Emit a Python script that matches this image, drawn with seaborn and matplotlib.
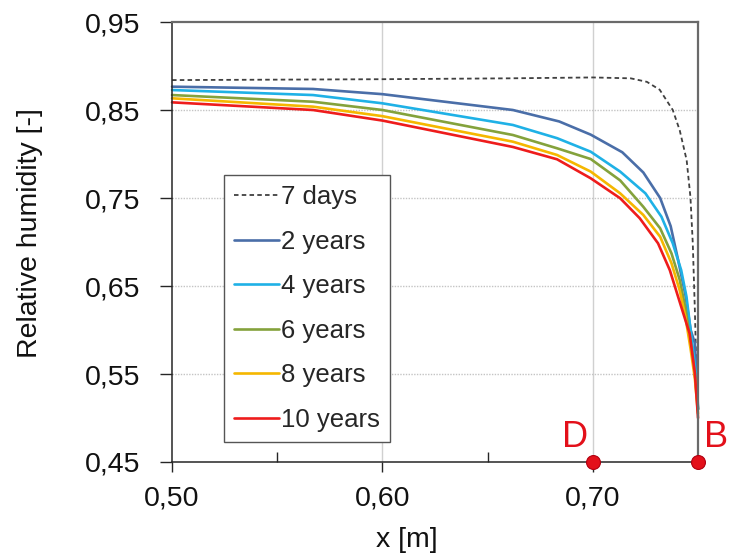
"""
Relative humidity profiles over depth x for several exposure times.
"""

import matplotlib
matplotlib.use("Agg")
import matplotlib.pyplot as plt
import matplotlib.ticker as mticker
import seaborn as sns

# --- data ---
X_7D = [0.50, 0.60, 0.66, 0.70, 0.718, 0.7257, 0.7318, 0.738, 0.7413,
        0.7446, 0.7464, 0.7475, 0.7485, 0.7493, 0.75]
RH_7D = [0.884, 0.885, 0.886, 0.887, 0.886, 0.882, 0.873, 0.850, 0.827,
         0.793, 0.751, 0.699, 0.623, 0.547, 0.50]

X_2Y = [0.50, 0.567, 0.60, 0.662, 0.684, 0.699, 0.714, 0.724, 0.732,
        0.737, 0.7405, 0.744, 0.7465, 0.7485, 0.7495, 0.75]
RH_2Y = [0.8765, 0.8739, 0.868, 0.850, 0.837, 0.822, 0.802, 0.779, 0.750,
         0.718, 0.680, 0.640, 0.600, 0.585, 0.540, 0.51]

X_4Y = [0.50, 0.567, 0.60, 0.662, 0.683, 0.699, 0.713, 0.725, 0.7326,
        0.738, 0.742, 0.7445, 0.747, 0.749, 0.75]
RH_4Y = [0.8727, 0.867, 0.8576, 0.833, 0.818, 0.8026, 0.780, 0.7553, 0.7288,
         0.6985, 0.668, 0.638, 0.590, 0.550, 0.51]

X_6Y = [0.50, 0.567, 0.60, 0.662, 0.683, 0.699, 0.713, 0.724, 0.732,
        0.7374, 0.7413, 0.744, 0.7465, 0.7485, 0.75]
RH_6Y = [0.867, 0.8594, 0.850, 0.8216, 0.8065, 0.7943, 0.770, 0.740, 0.7156,
         0.687, 0.657, 0.625, 0.585, 0.550, 0.51]

X_8Y = [0.50, 0.567, 0.60, 0.662, 0.683, 0.699, 0.713, 0.724, 0.732,
        0.7374, 0.7413, 0.744, 0.7465, 0.7485, 0.75]
RH_8Y = [0.8633, 0.8538, 0.843, 0.814, 0.7989, 0.780, 0.7553, 0.7307, 0.706,
         0.6758, 0.645, 0.615, 0.578, 0.545, 0.505]

X_10Y = [0.50, 0.567, 0.60, 0.662, 0.683, 0.699, 0.713, 0.7223, 0.731,
         0.7366, 0.7405, 0.746, 0.7485, 0.75]
RH_10Y = [0.8587, 0.850, 0.838, 0.808, 0.794, 0.7724, 0.7497, 0.727, 0.6985,
          0.668, 0.638, 0.596, 0.551, 0.50]

SERIES = [
    ("7 days", X_7D, RH_7D, "#404040"),
    ("2 years", X_2Y, RH_2Y, "#4a6ea8"),
    ("4 years", X_4Y, RH_4Y, "#1fb1e6"),
    ("6 years", X_6Y, RH_6Y, "#84a23c"),
    ("8 years", X_8Y, RH_8Y, "#f5b700"),
    ("10 years", X_10Y, RH_10Y, "#ee1c1c"),
]

POINT_X = [0.70, 0.75]
POINT_Y = [0.45, 0.45]
POINT_LABELS = ["D", "B"]

X_TICKS = [0.50, 0.60, 0.70]
Y_TICKS = [0.45, 0.55, 0.65, 0.75, 0.85, 0.95]


def comma(v, _pos=None, nd=2):
    return f"{v:.{nd}f}".replace(".", ",")


sns.set_theme(style="white")
plt.rcParams["font.family"] = ["Liberation Sans", "DejaVu Sans"]

fig = plt.figure(figsize=(7.29, 5.6), dpi=100)
ax = fig.add_axes([0.236, 0.175, 0.7215, 0.7857])

for name, xs, ys, col in SERIES:
    if name == "7 days":
        sns.lineplot(x=xs, y=ys, ax=ax, color=col, lw=1.3, label=name,
                     linestyle=(0, (2.5, 1.8)), clip_on=False)
    else:
        sns.lineplot(x=xs, y=ys, ax=ax, color=col, lw=1.9, label=name,
                     clip_on=False)

ax.set_xlim(0.50, 0.75)
ax.set_ylim(0.45, 0.95)
ax.set_xticks(X_TICKS)
ax.set_yticks(Y_TICKS)
ax.xaxis.set_minor_locator(mticker.FixedLocator([0.55, 0.65]))
ax.xaxis.set_major_formatter(mticker.FuncFormatter(comma))
ax.yaxis.set_major_formatter(mticker.FuncFormatter(comma))

# grid
for v in [0.60, 0.70]:
    ax.axvline(v, color="#d0d0d0", lw=1.0, zorder=0)
for v in [0.55, 0.65, 0.75, 0.85]:
    ax.axhline(v, color="#c4c4c4", lw=1.0, ls=(0, (1, 1)), zorder=0)

ax.tick_params(axis="both", which="major", labelsize=20.5, colors="#262626",
               labelcolor="#111111")
ax.tick_params(axis="x", which="major", direction="out", length=7, width=1, pad=10, bottom=True)
ax.tick_params(axis="x", which="minor", direction="in", length=7, width=1, bottom=True)
ax.tick_params(axis="y", which="major", direction="out", length=9, width=1, pad=14, left=True)

for side in ["left", "bottom"]:
    ax.spines[side].set_color("#262626")
    ax.spines[side].set_linewidth(1.1)
for side in ["top", "right"]:
    ax.spines[side].set_color("#6a6a6a")
    ax.spines[side].set_linewidth(1.6)

ax.set_xlabel("x [m]", fontsize=20.5, color="#111111")
ax.set_ylabel("Relative humidity [-]", fontsize=20.5, color="#111111")
ax.xaxis.set_label_coords(0.447, -0.148)
ax.yaxis.set_label_coords(-0.245, 0.52)

# D and B points
ax.plot(POINT_X, POINT_Y, "o", ms=10, color="#e3101a", mec="#b00010", mew=0.8,
        clip_on=False, zorder=5)
ax.text(POINT_X[0] - 0.002, POINT_Y[0] + 0.008, POINT_LABELS[0], color="#e3101a",
        fontsize=26, ha="right", va="bottom")
ax.text(POINT_X[1] + 0.003, POINT_Y[1] + 0.008, POINT_LABELS[1], color="#e3101a",
        fontsize=26, ha="left", va="bottom")

leg = ax.legend(loc="lower left", bbox_to_anchor=(0.099, 0.045), fontsize=18.5,
                frameon=True, fancybox=False, shadow=False, handlelength=1.75,
                handletextpad=0.05, labelspacing=0.8, borderpad=0.4,
                borderaxespad=0.0)
leg.get_frame().set_edgecolor("#555555")
leg.get_frame().set_linewidth(1.0)
leg.get_frame().set_alpha(1.0)

fig.savefig("out.png", dpi=100)
plt.close(fig)
